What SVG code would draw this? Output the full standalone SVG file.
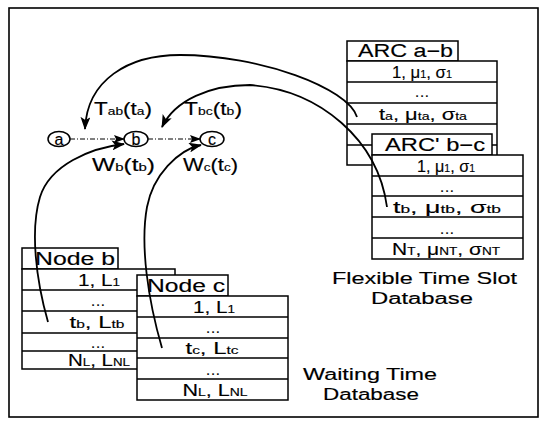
<svg xmlns="http://www.w3.org/2000/svg" width="541" height="424" viewBox="0 0 541 424">
<style>
text{font-family:"Liberation Sans",Arial,sans-serif;fill:#000;stroke:#000;stroke-width:0.15}
.tt{font-size:18px}
.r{font-size:17px;text-anchor:middle}
.s{font-size:11px}
.d{font-size:15px;text-anchor:middle}
.lb{font-size:18px}
.db{font-size:16px}
.box{fill:#fff;stroke:#000;stroke-width:1.5}
.ln{stroke:#000;stroke-width:1.3;fill:none}
.cur{fill:none;stroke:#000;stroke-width:1.8;marker-end:url(#ah)}
.dash{fill:none;stroke:#000;stroke-width:1;stroke-dasharray:5 2 1 2;marker-end:url(#ah2)}
.el{fill:#fff;stroke:#000;stroke-width:1.5}
.nl{font-size:16px;text-anchor:middle}
</style>
<defs>
<marker id="ah" markerUnits="userSpaceOnUse" viewBox="0 0 13 10" markerWidth="13" markerHeight="10" refX="12" refY="5" orient="auto">
<path d="M0,0 L13,5 L0,10 L3,5 z" fill="#000"/>
</marker>
<marker id="ah2" markerUnits="userSpaceOnUse" viewBox="0 0 11 8" markerWidth="11" markerHeight="8" refX="10" refY="4" orient="auto">
<path d="M0,0 L11,4 L0,8 L2,4 z" fill="#000"/>
</marker>
</defs>
<rect x="9" y="8" width="529" height="409" fill="#fff" stroke="#000" stroke-width="1.6"/>

<g id="node-arc-ab">
<rect class="box" x="347" y="41" width="111" height="20"/>
<rect class="box" x="347" y="61" width="150" height="104"/>
<path class="ln" d="M347,82H497M347,103H497M347,124H497M347,145H497"/>
<text class="tt" x="358" y="57" textLength="95" lengthAdjust="spacingAndGlyphs">ARC a−b</text>
<text class="r" x="422" y="78" textLength="60" lengthAdjust="spacingAndGlyphs">1, μ<tspan class="s">1</tspan>, σ<tspan class="s">1</tspan></text>
<text class="d" x="422" y="97" textLength="14">...</text>
<text class="r" x="423" y="120" textLength="88" lengthAdjust="spacingAndGlyphs">t<tspan class="s">a</tspan>, μ<tspan class="s">ta</tspan>, σ<tspan class="s">ta</tspan></text>
</g>

<g id="node-arc-bc">
<rect class="box" x="372" y="134" width="120" height="21"/>
<rect class="box" x="372" y="155" width="151" height="104"/>
<path class="ln" d="M372,176H523M372,196H523M372,217H523M372,238H523"/>
<text class="tt" x="385" y="151" textLength="100" lengthAdjust="spacingAndGlyphs">ARC' b−c</text>
<text class="r" x="446" y="172" textLength="58" lengthAdjust="spacingAndGlyphs">1, μ<tspan class="s">1</tspan>, σ<tspan class="s">1</tspan></text>
<text class="d" x="447" y="192" textLength="14">...</text>
<text class="r" x="447" y="213" textLength="108" lengthAdjust="spacingAndGlyphs">t<tspan class="s">b</tspan>, μ<tspan class="s">tb</tspan>, σ<tspan class="s">tb</tspan></text>
<text class="d" x="447" y="234" textLength="14">...</text>
<text class="r" x="446" y="255" textLength="108" lengthAdjust="spacingAndGlyphs">N<tspan class="s">T</tspan>, μ<tspan class="s">NT</tspan>, σ<tspan class="s">NT</tspan></text>
</g>

<g id="node-b">
<rect class="box" x="22" y="248" width="96" height="21"/>
<rect class="box" x="22" y="269" width="153" height="100"/>
<path class="ln" d="M22,290H175M22,311H175M22,333H175M22,351H175"/>
<text class="tt" x="35" y="265" textLength="80" lengthAdjust="spacingAndGlyphs">Node b</text>
<text class="r" x="99" y="286" textLength="42" lengthAdjust="spacingAndGlyphs">1, L<tspan class="s">1</tspan></text>
<text class="d" x="98" y="306" textLength="14">...</text>
<text class="r" x="97" y="328" textLength="55" lengthAdjust="spacingAndGlyphs">t<tspan class="s">b</tspan>, L<tspan class="s">tb</tspan></text>
<text class="d" x="98" y="348" textLength="14">...</text>
<text class="r" x="99" y="366" textLength="62" lengthAdjust="spacingAndGlyphs">N<tspan class="s">L</tspan>, L<tspan class="s">NL</tspan></text>
</g>

<g id="node-c">
<rect class="box" x="137" y="275" width="91" height="21"/>
<rect class="box" x="137" y="296" width="151" height="104"/>
<path class="ln" d="M137,317H288M137,338H288M137,358H288M137,379H288"/>
<text class="tt" x="147" y="292" textLength="78" lengthAdjust="spacingAndGlyphs">Node c</text>
<text class="r" x="214" y="313" textLength="42" lengthAdjust="spacingAndGlyphs">1, L<tspan class="s">1</tspan></text>
<text class="d" x="213" y="333" textLength="14">...</text>
<text class="r" x="212" y="354" textLength="53" lengthAdjust="spacingAndGlyphs">t<tspan class="s">c</tspan>, L<tspan class="s">tc</tspan></text>
<text class="d" x="213" y="375" textLength="14">...</text>
<text class="r" x="215" y="396" textLength="65" lengthAdjust="spacingAndGlyphs">N<tspan class="s">L</tspan>, L<tspan class="s">NL</tspan></text>
</g>

<g id="node-a-circle">
<ellipse class="el" cx="59" cy="139" rx="11" ry="7.5"/>
<text class="nl" x="59" y="144.5">a</text>
</g>
<g id="node-b-circle">
<ellipse class="el" cx="136" cy="139" rx="12" ry="7.5"/>
<text class="nl" x="136" y="144.5">b</text>
</g>
<g id="node-c-circle">
<ellipse class="el" cx="212" cy="139" rx="12" ry="7.5"/>
<text class="nl" x="212" y="144.5">c</text>
</g>

<g id="labels">
<text class="lb" x="94" y="115" textLength="58" lengthAdjust="spacingAndGlyphs">T<tspan class="s">ab</tspan>(t<tspan class="s">a</tspan>)</text>
<text class="lb" x="184" y="115" textLength="58" lengthAdjust="spacingAndGlyphs">T<tspan class="s">bc</tspan>(t<tspan class="s">b</tspan>)</text>
<text class="lb" x="92" y="171" textLength="63" lengthAdjust="spacingAndGlyphs">W<tspan class="s">b</tspan>(t<tspan class="s">b</tspan>)</text>
<text class="lb" x="183" y="171" textLength="55" lengthAdjust="spacingAndGlyphs">W<tspan class="s">c</tspan>(t<tspan class="s">c</tspan>)</text>
<text class="db" x="332" y="284" textLength="185" lengthAdjust="spacingAndGlyphs">Flexible Time Slot</text>
<text class="db" x="371" y="304" textLength="102" lengthAdjust="spacingAndGlyphs">Database</text>
<text class="db" x="303" y="380" textLength="134" lengthAdjust="spacingAndGlyphs">Waiting Time</text>
<text class="db" x="323" y="400" textLength="96" lengthAdjust="spacingAndGlyphs">Database</text>
</g>

<g id="connectors">
<path class="dash" d="M70,139 H124"/>
<path class="dash" d="M148,139 H200"/>
<path class="cur" d="M357,117 C348,88 260,55 180,55 C128,55 87,80 85,129"/>
<path class="cur" d="M387,207 C378,140 320,90 250,85 C210,85 175,100 162,127"/>
<path class="cur" d="M48,322 C36,280 30,230 40,197 C50,165 90,148 124,144"/>
<path class="cur" d="M162,348 C148,300 140,245 147,207 C153,175 178,150 201,145"/>
</g>
</svg>
